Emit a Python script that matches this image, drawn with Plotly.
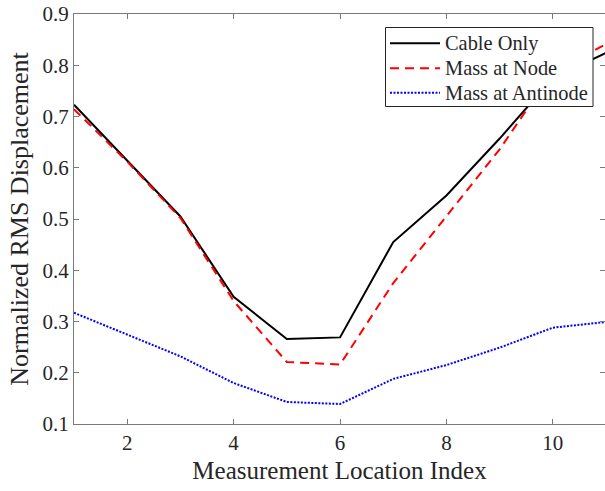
import plotly.graph_objects as go

x_index = [1, 2, 3, 4, 5, 6, 7, 8, 9, 10, 11]
cable_only = [0.723, 0.614, 0.505, 0.348, 0.266, 0.269, 0.455, 0.546, 0.657, 0.775, 0.824]
mass_node = [0.714, 0.612, 0.502, 0.340, 0.221, 0.216, 0.375, 0.505, 0.636, 0.788, 0.841]
mass_antinode = [0.317, 0.275, 0.232, 0.180, 0.143, 0.139, 0.188, 0.215, 0.249, 0.288, 0.299]

series_names = ["Cable Only", "Mass at Node", "Mass at Antinode"]

x_ticks = [2, 4, 6, 8, 10]
y_ticks = [0.1, 0.2, 0.3, 0.4, 0.5, 0.6, 0.7, 0.8, 0.9]
y_tick_labels = ["0.1", "0.2", "0.3", "0.4", "0.5", "0.6", "0.7", "0.8", "0.9"]

FONT = "Liberation Serif, Times New Roman, serif"
AX = "#7a7a7a"
TXT = "#262626"

W, H = 605, 491
ML, MR, MT, MB = 74, 0, 14, 67
PW, PH = W - ML - MR, H - MT - MB


def px_x(p):
    return (p - ML) / PW


def px_y(p):
    return (H - MB - p) / PH


styles = [
    dict(color="black", width=2),
    dict(color="#ff0000", width=2, dash="9px,6px"),
    dict(color="#0000ff", width=2, dash="2px,1.5px"),
]

fig = go.Figure()
for name, ys, st in zip(series_names, [cable_only, mass_node, mass_antinode], styles):
    fig.add_trace(go.Scatter(x=x_index, y=ys, mode="lines", name=name, line=st,
                             showlegend=False))

# legend drawn as box + samples + labels
shapes = [dict(type="rect", xref="paper", yref="paper",
               x0=px_x(385.5), x1=px_x(593), y0=px_y(27.5), y1=px_y(106.5),
               line=dict(color="#262626", width=1), fillcolor="white", layer="above")]
annotations = []
row_y = [43.3, 68.3, 92.7]
for name, st, ry in zip(series_names, styles, row_y):
    shapes.append(dict(type="line", xref="paper", yref="paper",
                       x0=px_x(390), x1=px_x(440), y0=px_y(ry), y1=px_y(ry),
                       line=st, layer="above"))
    annotations.append(dict(text=name, xref="paper", yref="paper",
                            x=px_x(442.5), y=px_y(ry), xanchor="left", yanchor="middle",
                            showarrow=False,
                            font=dict(family=FONT, size=20.4, color=TXT)))

fig.update_layout(
    width=W, height=H,
    margin=dict(l=ML, r=MR, t=MT, b=MB),
    paper_bgcolor="white", plot_bgcolor="white",
    font=dict(family=FONT, color=TXT, size=20),
    showlegend=False,
    shapes=shapes,
    annotations=annotations,
    xaxis=dict(range=[1, 10.98], tickvals=x_ticks, ticks="inside", ticklen=5,
               tickcolor=AX, showline=True, linecolor=AX, linewidth=1, mirror="ticks",
               showgrid=False, zeroline=False,
               tickfont=dict(family=FONT, size=21, color=TXT),
               title=dict(text="Measurement Location Index", standoff=7,
                          font=dict(family=FONT, size=25, color=TXT))),
    yaxis=dict(range=[0.1, 0.9], tickvals=y_ticks, ticktext=y_tick_labels,
               ticks="inside", ticklen=5,
               tickcolor=AX, showline=True, linecolor=AX, linewidth=1, mirror="ticks",
               showgrid=False, zeroline=False,
               tickfont=dict(family=FONT, size=21, color=TXT),
               title=dict(text="Normalized RMS Displacement", standoff=6,
                          font=dict(family=FONT, size=26, color=TXT))),
)

fig.write_html("out.html")
